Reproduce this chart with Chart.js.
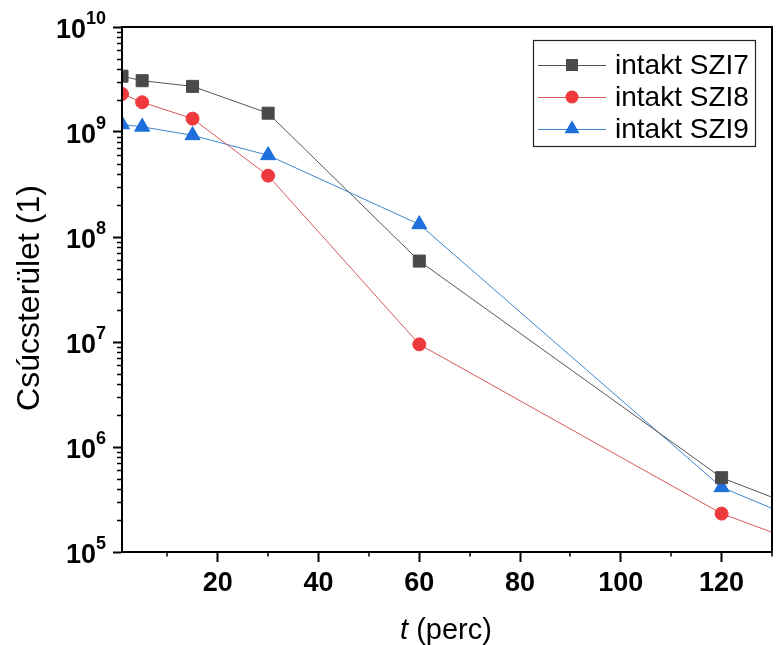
<!DOCTYPE html>
<html>
<head>
<meta charset="utf-8">
<title>Csúcsterület</title>
<script src="https://cdn.jsdelivr.net/npm/chart.js"></script>
<style>
  html, body { margin: 0; padding: 0; background: #fff; }
  #wrap { width: 777px; height: 645px; position: relative; }
</style>
</head>
<body>
<div id="wrap"><canvas id="peakChart"></canvas></div>
<script>
// sampling times (perc) and peak areas per sample
const times = [1, 5, 15, 30, 60, 120, 180];
const szi7 = [3.4e9, 3.08e9, 2.72e9, 1.51e9, 5.9e7, 5.1e5, 3.9e4];
const szi8 = [2.3e9, 1.92e9, 1.34e9, 3.84e8, 9.5e6, 2.32e5, 2.0e4];
const szi9 = [1.18e9, 1.12e9, 9.3e8, 6.0e8, 1.32e8, 4.13e5, 2.6e4];

const seriesNames = ['intakt SZI7', 'intakt SZI8', 'intakt SZI9'];
const xMajorTicks = [20, 40, 60, 80, 100, 120];
const xMinorTicks = [10, 30, 50, 70, 90, 110, 130];
const yExponents = [5, 6, 7, 8, 9, 10];

const FONT = 'Arial, "Liberation Sans", sans-serif';
Chart.defaults.font.family = FONT;
Chart.defaults.color = '#000';

const styles = [
    { line: '#555555', fill: '#4a4a4a', shape: 'rect', radius: 8.5 },
    { line: '#d9585a', fill: '#ee3a3c', shape: 'circle', radius: 6.5 },
    { line: '#3f86cc', fill: '#1e6fdb', shape: 'triangle', radius: 8.7 }
];

const toPoints = vals => vals.map((v, i) => ({ x: times[i], y: v }));

const datasets = [szi7, szi8, szi9].map((vals, i) => ({
    label: seriesNames[i],
    data: toPoints(vals),
    borderColor: styles[i].line,
    borderWidth: 1,
    pointStyle: styles[i].shape,
    pointRadius: styles[i].radius,
    pointHoverRadius: styles[i].radius,
    pointBackgroundColor: styles[i].fill,
    pointBorderColor: styles[i].fill,
    pointBorderWidth: 1,
    tension: 0,
    clip: 0
}));

// marker drawing for the legend samples
function drawMarker(ctx, st, x, y) {
    const r = st.radius;
    ctx.fillStyle = st.fill;
    ctx.beginPath();
    if (st.shape === 'rect') {
        const s = r * Math.SQRT1_2;
        ctx.rect(x - s, y - s, 2 * s, 2 * s);
    } else if (st.shape === 'circle') {
        ctx.arc(x, y, r, 0, Math.PI * 2);
    } else {
        ctx.moveTo(x, y - r);
        ctx.lineTo(x + r * Math.sin(Math.PI * 2 / 3), y + r / 2);
        ctx.lineTo(x - r * Math.sin(Math.PI * 2 / 3), y + r / 2);
        ctx.closePath();
    }
    ctx.fill();
}

const decorations = {
    id: 'decorations',
    // keep lines and markers inside the frame
    beforeDatasetsDraw(chart) {
        const { ctx, chartArea: a } = chart;
        ctx.save();
        ctx.beginPath();
        ctx.rect(a.left, a.top, a.right - a.left, a.bottom - a.top);
        ctx.clip();
    },
    afterDatasetsDraw(chart) {
        const { ctx, chartArea: a } = chart;
        ctx.restore();
        ctx.save();
        ctx.strokeStyle = '#000';
        ctx.lineWidth = 2;
        ctx.strokeRect(a.left, a.top, a.right - a.left, a.bottom - a.top);
        ctx.restore();
    },
    afterDraw(chart) {
        const { ctx, chartArea: a } = chart;
        const xs = chart.scales.x, ys = chart.scales.y;
        ctx.save();

        // minor ticks
        ctx.strokeStyle = '#000';
        ctx.lineWidth = 1.5;
        ctx.beginPath();
        xMinorTicks.forEach(v => {
            const px = Math.round(xs.getPixelForValue(v));
            ctx.moveTo(px, a.bottom);
            ctx.lineTo(px, a.bottom + 4.5);
        });
        yExponents.slice(0, -1).forEach(n => {
            for (let k = 2; k <= 9; k++) {
                const py = Math.round(ys.getPixelForValue(k * Math.pow(10, n))) + 0.5;
                ctx.moveTo(a.left, py);
                ctx.lineTo(a.left - 5, py);
            }
        });
        ctx.stroke();

        // y tick labels as 10 with superscript exponent
        ctx.fillStyle = '#000';
        ctx.textAlign = 'left';
        ctx.textBaseline = 'alphabetic';
        const rightEdge = 106;
        yExponents.forEach(n => {
            const py = ys.getPixelForValue(Math.pow(10, n));
            ctx.font = 'bold 18px ' + FONT;
            const exp = String(n);
            const ew = ctx.measureText(exp).width;
            ctx.fillText(exp, rightEdge - ew, py - 3.5);
            ctx.font = 'bold 27px ' + FONT;
            const bw = ctx.measureText('10').width;
            ctx.fillText('10', rightEdge - ew - bw, py + 11);
        });

        // y axis title
        ctx.save();
        ctx.translate(30, 298);
        ctx.rotate(-Math.PI / 2);
        ctx.font = '32px ' + FONT;
        ctx.textAlign = 'center';
        ctx.textBaseline = 'middle';
        ctx.fillText('Csúcsterület (1)', 0, 0);
        ctx.restore();

        // x axis title: italic t, upright unit
        ctx.font = 'italic 29px ' + FONT;
        const tW = ctx.measureText('t').width;
        ctx.font = '29px ' + FONT;
        const restW = ctx.measureText(' (perc)').width;
        const startX = 446 - (tW + restW) / 2;
        ctx.font = 'italic 29px ' + FONT;
        ctx.fillText('t', startX, 639);
        ctx.font = '29px ' + FONT;
        ctx.fillText(' (perc)', startX + tW, 639);

        // legend
        ctx.strokeStyle = '#222';
        ctx.lineWidth = 1.2;
        ctx.strokeRect(533.5, 40.5, 222, 106);
        ctx.font = '28px ' + FONT;
        ctx.textBaseline = 'middle';
        seriesNames.forEach((name, i) => {
            const ry = 65 + i * 32;
            ctx.strokeStyle = styles[i].line;
            ctx.lineWidth = 1;
            ctx.beginPath();
            ctx.moveTo(538, ry + 0.5);
            ctx.lineTo(606, ry + 0.5);
            ctx.stroke();
            drawMarker(ctx, styles[i], 572, ry);
            ctx.fillStyle = '#000';
            ctx.fillText(name, 615, ry + 1);
        });

        ctx.restore();
    }
};

new Chart(document.getElementById('peakChart'), {
    type: 'line',
    data: { datasets },
    options: {
        responsive: true,
        maintainAspectRatio: false,
        animation: false,
        events: [],
        layout: { autoPadding: false, padding: { top: 27, right: 5, left: 0, bottom: 0 } },
        plugins: { legend: { display: false }, tooltip: { enabled: false } },
        scales: {
            x: {
                type: 'linear',
                min: 1,
                max: 130,
                afterBuildTicks: s => { s.ticks = xMajorTicks.map(v => ({ value: v })); },
                afterFit: s => { s.height = 93; s.paddingLeft = 0; s.paddingRight = 0; },
                grid: { drawOnChartArea: false, drawTicks: true, tickLength: 10, tickWidth: 2, tickColor: '#000' },
                border: { display: true, width: 2, color: '#000' },
                ticks: { font: { size: 27, weight: 'bold' }, color: '#000', padding: 5, maxRotation: 0 }
            },
            y: {
                type: 'logarithmic',
                min: 1e5,
                max: 1e10,
                afterBuildTicks: s => { s.ticks = yExponents.map(n => ({ value: Math.pow(10, n) })); },
                afterFit: s => { s.width = 122; s.paddingTop = 0; s.paddingBottom = 0; },
                grid: { drawOnChartArea: false, drawTicks: true, tickLength: 9, tickWidth: 2, tickColor: '#000' },
                border: { display: true, width: 2, color: '#000' },
                ticks: { display: false }
            }
        }
    },
    plugins: [decorations]
});
</script>
</body>
</html>
